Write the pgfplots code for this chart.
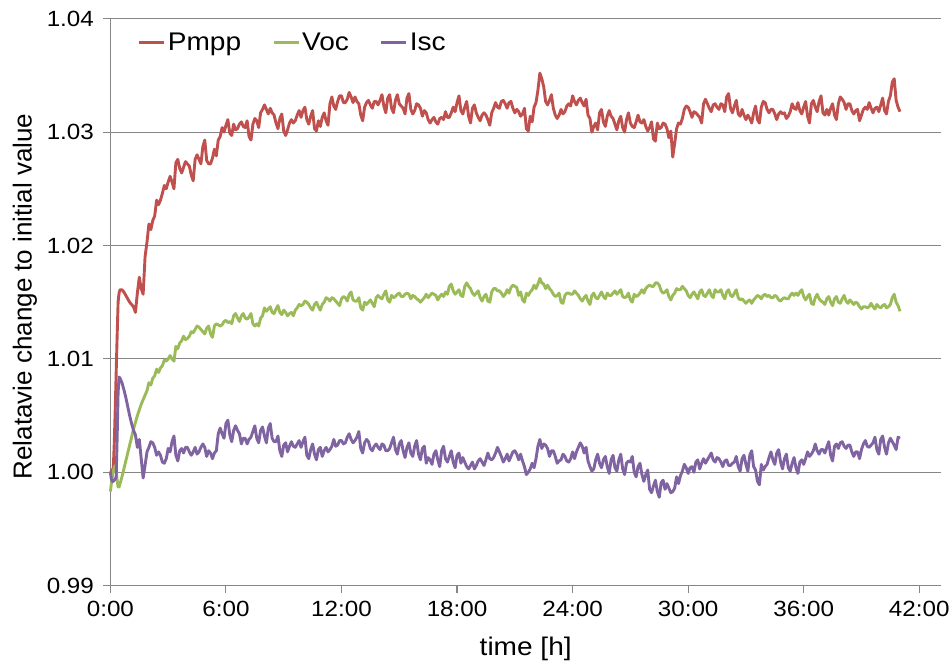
\documentclass[border=0pt]{standalone}
\usepackage{fontspec}
\setmainfont{Liberation Sans}[FakeStretch=1.1]
\newfontfamily\ylabfont{Liberation Sans}
\usepackage{pgfplots}
\pgfplotsset{compat=1.18}
\usepackage{pgfplotstable}
\definecolor{cP}{HTML}{C0504D}
\definecolor{cV}{HTML}{9BBB59}
\definecolor{cI}{HTML}{8064A2}
\definecolor{gridgray}{RGB}{134,134,134}

\pgfplotstableread{
t P V I
0.00 1.0000 0.9983 1.0000
0.05 1.0001 0.9990 0.9994
0.10 1.0002 0.9996 0.9992
0.15 1.0004 1.0001 0.9992
0.20 1.0025 1.0004 0.9993
0.25 1.0055 1.0006 0.9994
0.30 1.0088 1.0002 0.9996
0.35 1.0120 0.9993 1.0030
0.40 1.0150 0.9987 1.0070
0.45 1.0158 0.9987 1.0084
0.50 1.0161 0.9990 1.0083
0.60 1.0161 0.9996 1.0079
0.70 1.0159 1.0003 1.0073
0.80 1.0156 1.0010 1.0066
0.90 1.0153 1.0017 1.0058
1.00 1.0150 1.0024 1.0050
1.10 1.0148 1.0031 1.0043
1.20 1.0146 1.0038 1.0037
1.30 1.0141 1.0044 1.0033
1.40 1.0158 1.0050 1.0022
1.50 1.0172 1.0055 1.0029
1.60 1.0162 1.0060 1.0012
1.70 1.0157 1.0064 0.9995
1.80 1.0190 1.0068 1.0006
1.90 1.0203 1.0072 1.0018
2.0 1.0219 1.0079 1.0022
2.1 1.0214 1.0077 1.0027
2.2 1.0222 1.0083 1.0026
2.3 1.0226 1.0085 1.0022
2.4 1.0240 1.0091 1.0015
2.5 1.0236 1.0088 1.0018
2.6 1.0240 1.0092 1.0015
2.7 1.0246 1.0094 1.0009
2.8 1.0253 1.0099 1.0008
2.9 1.0250 1.0098 1.0012
3.0 1.0256 1.0100 1.0021
3.1 1.0261 1.0103 1.0018
3.2 1.0256 1.0100 1.0027
3.3 1.0250 1.0098 1.0032
3.4 1.0273 1.0111 1.0015
3.5 1.0276 1.0109 1.0010
3.6 1.0268 1.0114 1.0019
3.7 1.0264 1.0116 1.0021
3.8 1.0269 1.0120 1.0017
3.9 1.0274 1.0117 1.0022
4.0 1.0272 1.0118 1.0022
4.1 1.0270 1.0120 1.0018
4.2 1.0262 1.0124 1.0015
4.3 1.0257 1.0123 1.0018
4.4 1.0276 1.0126 1.0022
4.5 1.0280 1.0129 1.0016
4.6 1.0276 1.0128 1.0018
4.7 1.0272 1.0126 1.0022
4.8 1.0287 1.0124 1.0025
4.9 1.0293 1.0122 1.0022
5.0 1.0275 1.0127 1.0014
5.1 1.0272 1.0129 1.0019
5.2 1.0272 1.0122 1.0017
5.3 1.0277 1.0119 1.0012
5.4 1.0285 1.0129 1.0017
5.5 1.0279 1.0131 1.0019
5.6 1.0293 1.0130 1.0034
5.7 1.0296 1.0129 1.0039
5.8 1.0304 1.0130 1.0034
5.9 1.0300 1.0133 1.0030
6.0 1.0306 1.0134 1.0043
6.1 1.0311 1.0132 1.0046
6.2 1.0299 1.0133 1.0033
6.3 1.0297 1.0131 1.0027
6.4 1.0307 1.0138 1.0037
6.5 1.0302 1.0140 1.0041
6.6 1.0303 1.0136 1.0037
6.7 1.0307 1.0133 1.0034
6.8 1.0309 1.0138 1.0025
6.9 1.0305 1.0140 1.0030
7.0 1.0304 1.0136 1.0030
7.1 1.0310 1.0135 1.0025
7.2 1.0296 1.0137 1.0029
7.3 1.0293 1.0140 1.0031
7.4 1.0307 1.0131 1.0036
7.5 1.0312 1.0129 1.0041
7.6 1.0310 1.0131 1.0030
7.7 1.0304 1.0129 1.0026
7.8 1.0317 1.0136 1.0037
7.9 1.0320 1.0138 1.0040
8.0 1.0324 1.0145 1.0032
8.1 1.0320 1.0142 1.0026
8.2 1.0316 1.0144 1.0039
8.3 1.0321 1.0146 1.0043
8.4 1.0317 1.0141 1.0030
8.5 1.0315 1.0140 1.0027
8.6 1.0308 1.0144 1.0027
8.7 1.0303 1.0147 1.0032
8.8 1.0312 1.0141 1.0019
8.9 1.0316 1.0139 1.0014
9.0 1.0301 1.0143 1.0024
9.1 1.0297 1.0141 1.0026
9.2 1.0302 1.0138 1.0018
9.3 1.0308 1.0140 1.0023
9.4 1.0311 1.0141 1.0027
9.5 1.0308 1.0138 1.0023
9.6 1.0310 1.0143 1.0022
9.7 1.0315 1.0145 1.0025
9.8 1.0319 1.0148 1.0028
9.9 1.0313 1.0147 1.0022
10.0 1.0319 1.0148 1.0027
10.1 1.0322 1.0151 1.0031
10.2 1.0311 1.0150 1.0015
10.3 1.0307 1.0148 1.0012
10.4 1.0314 1.0145 1.0020
10.5 1.0319 1.0143 1.0025
10.6 1.0303 1.0148 1.0016
10.7 1.0301 1.0150 1.0011
10.8 1.0310 1.0146 1.0020
10.9 1.0305 1.0143 1.0022
11.0 1.0313 1.0148 1.0014
11.1 1.0317 1.0150 1.0019
11.2 1.0310 1.0154 1.0022
11.3 1.0306 1.0153 1.0018
11.4 1.0325 1.0151 1.0020
11.5 1.0331 1.0154 1.0023
11.6 1.0323 1.0153 1.0029
11.7 1.0320 1.0151 1.0023
11.8 1.0327 1.0149 1.0024
11.9 1.0332 1.0147 1.0028
12.0 1.0332 1.0153 1.0028
12.1 1.0326 1.0155 1.0025
12.2 1.0326 1.0154 1.0026
12.3 1.0329 1.0151 1.0031
12.4 1.0335 1.0157 1.0034
12.5 1.0331 1.0159 1.0029
12.6 1.0326 1.0152 1.0026
12.7 1.0331 1.0151 1.0028
12.8 1.0327 1.0151 1.0031
12.9 1.0325 1.0154 1.0036
13.0 1.0315 1.0145 1.0021
13.1 1.0310 1.0143 1.0017
13.2 1.0322 1.0150 1.0026
13.3 1.0326 1.0148 1.0029
13.4 1.0328 1.0150 1.0027
13.5 1.0324 1.0152 1.0021
13.6 1.0321 1.0149 1.0019
13.7 1.0327 1.0146 1.0023
13.8 1.0327 1.0154 1.0025
13.9 1.0324 1.0156 1.0022
14.0 1.0328 1.0154 1.0020
14.1 1.0333 1.0153 1.0025
14.2 1.0323 1.0157 1.0024
14.3 1.0317 1.0160 1.0019
14.4 1.0330 1.0152 1.0019
14.5 1.0333 1.0150 1.0021
14.6 1.0321 1.0156 1.0026
14.7 1.0317 1.0154 1.0031
14.8 1.0328 1.0155 1.0020
14.9 1.0333 1.0157 1.0016
15.0 1.0325 1.0158 1.0025
15.1 1.0323 1.0155 1.0028
15.2 1.0321 1.0155 1.0019
15.3 1.0316 1.0157 1.0013
15.4 1.0330 1.0158 1.0022
15.5 1.0334 1.0157 1.0026
15.6 1.0320 1.0153 1.0017
15.7 1.0316 1.0156 1.0014
15.8 1.0319 1.0155 1.0023
15.9 1.0325 1.0153 1.0028
16.0 1.0324 1.0152 1.0016
16.1 1.0321 1.0150 1.0011
16.2 1.0314 1.0152 1.0021
16.3 1.0319 1.0154 1.0023
16.4 1.0317 1.0157 1.0008
16.5 1.0311 1.0154 1.0013
16.6 1.0308 1.0156 1.0011
16.7 1.0311 1.0158 1.0007
16.8 1.0313 1.0157 1.0016
16.9 1.0309 1.0156 1.0019
17.0 1.0307 1.0152 1.0011
17.1 1.0312 1.0155 1.0005
17.2 1.0313 1.0157 1.0019
17.3 1.0311 1.0155 1.0023
17.4 1.0318 1.0159 1.0012
17.5 1.0313 1.0157 1.0009
17.6 1.0313 1.0164 1.0014
17.7 1.0317 1.0166 1.0019
17.8 1.0322 1.0160 1.0009
17.9 1.0318 1.0157 1.0004
18.0 1.0326 1.0159 1.0015
18.1 1.0332 1.0161 1.0017
18.2 1.0319 1.0156 1.0008
18.3 1.0316 1.0155 1.0013
18.4 1.0322 1.0164 1.0009
18.5 1.0327 1.0167 1.0005
18.6 1.0314 1.0164 1.0003
18.7 1.0308 1.0162 1.0006
18.8 1.0321 1.0158 1.0009
18.9 1.0324 1.0156 1.0003
19.0 1.0317 1.0158 1.0006
19.1 1.0313 1.0160 1.0010
19.2 1.0310 1.0154 1.0012
19.3 1.0315 1.0151 1.0009
19.4 1.0317 1.0155 1.0006
19.5 1.0315 1.0157 1.0011
19.6 1.0311 1.0151 1.0017
19.7 1.0306 1.0150 1.0012
19.8 1.0317 1.0159 1.0011
19.9 1.0321 1.0162 1.0013
20.0 1.0326 1.0162 1.0017
20.1 1.0322 1.0160 1.0022
20.2 1.0321 1.0160 1.0018
20.3 1.0327 1.0158 1.0014
20.4 1.0328 1.0155 1.0009
20.5 1.0325 1.0157 1.0012
20.6 1.0321 1.0161 1.0016
20.7 1.0326 1.0158 1.0010
20.8 1.0327 1.0163 1.0014
20.9 1.0321 1.0165 1.0018
21.0 1.0317 1.0164 1.0019
21.1 1.0320 1.0163 1.0016
21.2 1.0318 1.0156 1.0011
21.3 1.0314 1.0159 1.0016
21.4 1.0316 1.0152 1.0010
21.5 1.0321 1.0150 1.0005
21.6 1.0303 1.0158 0.9998
21.7 1.0301 1.0156 1.0000
21.8 1.0314 1.0159 1.0003
21.9 1.0309 1.0161 1.0008
22.0 1.0322 1.0165 1.0004
22.1 1.0326 1.0162 1.0012
22.2 1.0337 1.0166 1.0023
22.3 1.0352 1.0171 1.0029
22.4 1.0347 1.0167 1.0021
22.5 1.0340 1.0166 1.0025
22.6 1.0327 1.0162 1.0024
22.7 1.0324 1.0165 1.0021
22.8 1.0328 1.0162 1.0014
22.9 1.0333 1.0160 1.0019
23.0 1.0321 1.0157 1.0019
23.1 1.0315 1.0155 1.0014
23.2 1.0312 1.0156 1.0008
23.3 1.0315 1.0158 1.0010
23.4 1.0320 1.0150 1.0011
23.5 1.0316 1.0149 1.0016
23.6 1.0318 1.0156 1.0014
23.7 1.0323 1.0158 1.0010
23.8 1.0325 1.0158 1.0009
23.9 1.0323 1.0157 1.0012
24.0 1.0332 1.0157 1.0018
24.1 1.0327 1.0160 1.0012
24.2 1.0324 1.0158 1.0018
24.3 1.0328 1.0156 1.0022
24.4 1.0330 1.0153 1.0026
24.5 1.0326 1.0151 1.0023
24.6 1.0323 1.0154 1.0017
24.7 1.0329 1.0156 1.0022
24.8 1.0315 1.0151 1.0010
24.9 1.0312 1.0148 1.0005
25.0 1.0300 1.0156 1.0001
25.1 1.0305 1.0158 1.0003
25.2 1.0308 1.0154 1.0011
25.3 1.0302 1.0153 1.0016
25.4 1.0317 1.0156 1.0008
25.5 1.0320 1.0159 1.0004
25.6 1.0309 1.0155 1.0011
25.7 1.0305 1.0153 1.0014
25.8 1.0314 1.0158 1.0005
25.9 1.0319 1.0156 0.9999
26.0 1.0314 1.0156 1.0011
26.1 1.0312 1.0158 1.0015
26.2 1.0307 1.0160 1.0004
26.3 1.0302 1.0157 1.0001
26.4 1.0310 1.0159 1.0011
26.5 1.0314 1.0161 1.0016
26.6 1.0304 1.0155 1.0003
26.7 1.0300 1.0154 0.9998
26.8 1.0311 1.0155 1.0008
26.9 1.0317 1.0158 1.0010
27.0 1.0308 1.0152 1.0009
27.1 1.0305 1.0150 1.0014
27.2 1.0304 1.0157 1.0000
27.3 1.0309 1.0155 0.9996
27.4 1.0315 1.0156 1.0005
27.5 1.0309 1.0158 1.0008
27.6 1.0308 1.0161 0.9998
27.7 1.0311 1.0158 0.9992
27.8 1.0305 1.0162 0.9998
27.9 1.0301 1.0164 1.0002
28.0 1.0304 1.0165 0.9985
28.1 1.0309 1.0164 0.9982
28.2 1.0294 1.0164 0.9988
28.3 1.0292 1.0167 0.9993
28.4 1.0308 1.0167 0.9983
28.5 1.0303 1.0165 0.9978
28.6 1.0304 1.0160 0.9991
28.7 1.0308 1.0158 0.9993
28.8 1.0307 1.0159 0.9985
28.9 1.0303 1.0161 0.9990
29.0 1.0295 1.0155 0.9986
29.1 1.0301 1.0152 0.9982
29.2 1.0278 1.0156 0.9983
29.3 1.0290 1.0158 0.9986
29.4 1.0303 1.0162 0.9996
29.5 1.0308 1.0161 0.9990
29.6 1.0307 1.0161 0.9997
29.7 1.0312 1.0164 1.0001
29.8 1.0320 1.0162 1.0007
29.9 1.0323 1.0160 1.0004
30.0 1.0322 1.0156 0.9999
30.1 1.0318 1.0154 1.0004
30.2 1.0313 1.0157 1.0005
30.3 1.0318 1.0159 1.0000
30.4 1.0317 1.0156 1.0009
30.5 1.0315 1.0153 1.0011
30.6 1.0313 1.0159 1.0003
30.7 1.0308 1.0161 1.0008
30.8 1.0325 1.0156 1.0012
30.9 1.0329 1.0155 1.0008
31.0 1.0325 1.0158 1.0011
31.1 1.0321 1.0161 1.0014
31.2 1.0318 1.0156 1.0017
31.3 1.0324 1.0154 1.0011
31.4 1.0325 1.0161 1.0009
31.5 1.0322 1.0159 1.0013
31.6 1.0320 1.0159 1.0012
31.7 1.0325 1.0161 1.0009
31.8 1.0324 1.0156 1.0005
31.9 1.0318 1.0153 1.0010
32.0 1.0331 1.0159 1.0011
32.1 1.0334 1.0161 1.0006
32.2 1.0321 1.0156 1.0006
32.3 1.0317 1.0155 1.0008
32.4 1.0323 1.0158 1.0009
32.5 1.0328 1.0161 1.0014
32.6 1.0316 1.0154 1.0005
32.7 1.0314 1.0152 1.0001
32.8 1.0320 1.0153 1.0012
32.9 1.0315 1.0151 1.0015
33.0 1.0311 1.0149 1.0007
33.1 1.0315 1.0151 1.0001
33.2 1.0312 1.0152 1.0015
33.3 1.0308 1.0149 1.0019
33.4 1.0317 1.0152 1.0005
33.5 1.0323 1.0154 1.0002
33.6 1.0311 1.0156 0.9992
33.7 1.0308 1.0155 0.9989
33.8 1.0322 1.0153 1.0007
33.9 1.0327 1.0156 1.0002
34.0 1.0326 1.0157 1.0005
34.1 1.0320 1.0155 1.0007
34.2 1.0317 1.0156 1.0013
34.3 1.0320 1.0154 1.0018
34.4 1.0320 1.0154 1.0011
34.5 1.0316 1.0156 1.0007
34.6 1.0311 1.0155 1.0017
34.7 1.0316 1.0152 1.0020
34.8 1.0318 1.0151 1.0009
34.9 1.0316 1.0153 1.0003
35.0 1.0317 1.0154 1.0012
35.1 1.0312 1.0153 1.0016
35.2 1.0314 1.0153 1.0004
35.3 1.0318 1.0156 1.0001
35.4 1.0325 1.0158 1.0008
35.5 1.0321 1.0156 1.0013
35.6 1.0320 1.0158 1.0004
35.7 1.0326 1.0156 0.9999
35.8 1.0319 1.0159 1.0009
35.9 1.0316 1.0161 1.0011
36.0 1.0322 1.0155 1.0007
36.1 1.0327 1.0152 1.0012
36.2 1.0314 1.0155 1.0018
36.3 1.0308 1.0157 1.0014
36.4 1.0325 1.0149 1.0016
36.5 1.0328 1.0148 1.0019
36.6 1.0322 1.0154 1.0025
36.7 1.0318 1.0157 1.0019
36.8 1.0327 1.0153 1.0016
36.9 1.0332 1.0151 1.0020
37.0 1.0317 1.0150 1.0020
37.1 1.0315 1.0148 1.0017
37.2 1.0320 1.0153 1.0022
37.3 1.0315 1.0155 1.0027
37.4 1.0321 1.0150 1.0015
37.5 1.0325 1.0147 1.0010
37.6 1.0315 1.0153 1.0023
37.7 1.0311 1.0155 1.0025
37.8 1.0325 1.0150 1.0021
37.9 1.0331 1.0149 1.0026
38.0 1.0329 1.0153 1.0027
38.1 1.0326 1.0156 1.0023
38.2 1.0320 1.0151 1.0021
38.3 1.0325 1.0149 1.0024
38.4 1.0325 1.0152 1.0024
38.5 1.0319 1.0150 1.0018
38.6 1.0316 1.0148 1.0014
38.7 1.0319 1.0150 1.0018
38.8 1.0320 1.0149 1.0018
38.9 1.0310 1.0146 1.0012
39.0 1.0315 1.0144 1.0020
39.1 1.0320 1.0146 1.0025
39.2 1.0322 1.0146 1.0028
39.3 1.0320 1.0145 1.0023
39.4 1.0326 1.0146 1.0022
39.5 1.0321 1.0149 1.0024
39.6 1.0317 1.0146 1.0026
39.7 1.0321 1.0144 1.0031
39.8 1.0322 1.0148 1.0020
39.9 1.0318 1.0146 1.0016
40.0 1.0324 1.0145 1.0029
40.1 1.0330 1.0147 1.0032
40.2 1.0319 1.0148 1.0022
40.3 1.0316 1.0145 1.0016
40.4 1.0327 1.0146 1.0026
40.5 1.0332 1.0148 1.0030
40.6 1.0344 1.0154 1.0027
40.7 1.0347 1.0157 1.0024
40.8 1.0328 1.0150 1.0020
40.9 1.0322 1.0147 1.0031
41.0 1.0318 1.0142 1.0030
}\datatable

\begin{document}
\begin{tikzpicture}
\useasboundingbox (-110.4pt,-77.3pt) rectangle (838.6pt,585.7pt);
\begin{axis}[
  scale only axis,
  width=830.6pt, height=567pt,
  xmin=0, xmax=43.13, ymin=0.99, ymax=1.04,
  axis x line=bottom, axis y line=left,
  axis line style={-, draw=gridgray, line width=1.1pt},
  xtick={0,6,12,18,24,30,36,42},
  xticklabels={0:00,6:00,12:00,18:00,24:00,30:00,36:00,42:00},
  ytick={0.99,1,1.01,1.02,1.03,1.04},
  yticklabels={0.99,1.00,1.01,1.02,1.03,1.04},
  tick align=outside,
  major tick length=7pt,
  tick style={draw=gridgray, line width=1.1pt},
  ymajorgrids,
  major grid style={draw=gridgray, line width=1.1pt},
  tick label style={font=\fontsize{22}{26}\selectfont, text=black},
  xticklabel shift=5pt,
  yticklabel shift=6pt,
  every axis x label/.style={at={(axis description cs:0.5,-0.1235)}, anchor=base},
  every axis y label/.style={at={(axis description cs:-0.0947,0.51)}, anchor=base, rotate=90},
  xlabel={\fontsize{25.5}{30}\selectfont time [h]},
  ylabel={\ylabfont\fontsize{26}{30}\selectfont Relatavie change to initial value},
  legend columns=3,
  legend style={at={(axis description cs:0.033,0.958)}, anchor=west,
    draw=none, fill=none, inner xsep=0pt, inner ysep=0pt,
    font=\fontsize{25.5}{30}\selectfont,
    nodes={inner xsep=2pt, inner ysep=0pt},
    /tikz/every odd column/.append style={column sep=0pt},
    /tikz/every even column/.append style={column sep=29pt}},
  legend cell align=left,
  legend image code/.code={\draw[#1, line width=2.9pt] (0pt,0pt) -- (25pt,0pt);},
  clip=false,
]
\addplot[cP, line width=2.9pt, line join=round] table[x=t, y=P] {\datatable};
\addlegendentry{Pmpp}
\addplot[cV, line width=2.9pt, line join=round] table[x=t, y=V] {\datatable};
\addlegendentry{Voc}
\addplot[cI, line width=2.9pt, line join=round] table[x=t, y=I] {\datatable};
\addlegendentry{Isc}
\end{axis}
\end{tikzpicture}
\end{document}
